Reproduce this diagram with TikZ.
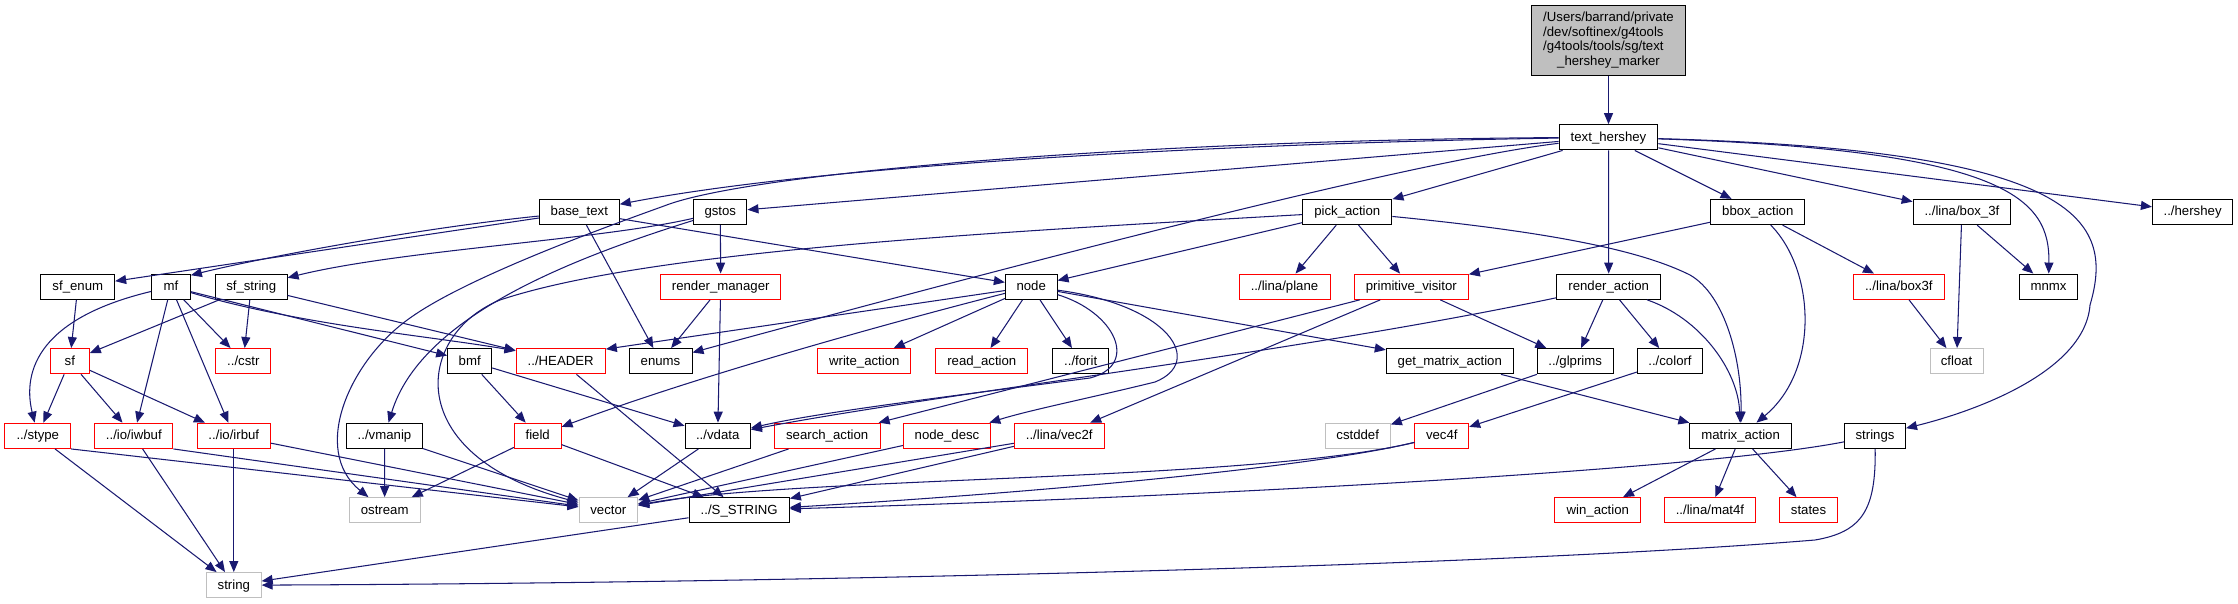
\documentclass[tikz,border=0pt]{standalone}
\usepackage{fontspec}
\setmainfont{Liberation Sans}
\usetikzlibrary{arrows.meta}
\definecolor{edgec}{HTML}{191970}
\definecolor{redb}{HTML}{FF0000}
\definecolor{grayb}{HTML}{BFBFBF}
\newcommand{\nf}{\fontsize{13.2bp}{14.8bp}\selectfont}
\begin{document}
\begin{tikzpicture}[x=1bp,y=-1bp,
  bx/.style={draw=black, line width=1.0bp, inner sep=0pt, minimum height=25.3bp, font=\nf, text height=9.5bp, text depth=1.6bp},
  rb/.style={bx, draw=redb},
  gb/.style={bx, draw=grayb},
  dep/.style={draw=edgec, line width=1.05bp, -{Triangle[length=11bp,width=9bp]}}]
\useasboundingbox (0,0) rectangle (2238,604);
% root
\node[draw=black, line width=1.0bp, fill=grayb, inner sep=0pt, minimum width=153.6bp, minimum height=69.6bp, font=\nf] (root) at (1608.5,40.5)
 {\renewcommand{\arraystretch}{1}\begin{tabular}{@{}l@{}}/Users/barrand/private\\/dev/softinex/g4tools\\/g4tools/tools/sg/text\\\multicolumn{1}{@{}c@{}}{\_hershey\_marker}\end{tabular}};
% row 1
\node[bx, minimum width=98.7bp] (th) at (1608.5,137.3) {text\_hershey};
% row 2
\node[bx, minimum width=80bp] (bt) at (579.3,212) {base\_text};
\node[bx, minimum width=53.3bp] (gs) at (720.3,212) {gstos};
\node[bx, minimum width=89.3bp] (pa) at (1347.3,212) {pick\_action};
\node[bx, minimum width=93.7bp] (bb) at (1757.8,212) {bbox\_action};
\node[bx, minimum width=97.5bp] (b3f) at (1961.9,212) {../lina/box\_3f};
\node[bx, minimum width=80.4bp] (hs) at (2192.6,212) {../hershey};
% row 3
\node[bx, minimum width=73.7bp] (se) at (77.8,286.7) {sf\_enum};
\node[bx, minimum width=38.7bp] (mf) at (171,286.7) {mf};
\node[bx, minimum width=71.7bp] (ss) at (251.2,286.7) {sf\_string};
\node[rb, minimum width=120bp] (rm) at (720.7,286.7) {render\_manager};
\node[bx, minimum width=51.7bp] (nd) at (1031.2,286.7) {node};
\node[rb, minimum width=91bp] (pl) at (1284.5,286.7) {../lina/plane};
\node[rb, minimum width=114bp] (pv) at (1411.3,286.7) {primitive\_visitor};
\node[bx, minimum width=104bp] (ra) at (1608.7,286.7) {render\_action};
\node[rb, minimum width=91bp] (bx3) at (1898.8,286.7) {../lina/box3f};
\node[bx, minimum width=58.5bp] (mm) at (2048.5,286.7) {mnmx};
% row 4
\node[rb, minimum width=39bp] (sf) at (69.8,361.2) {sf};
\node[rb, minimum width=54.7bp] (cs) at (243.3,361.2) {../cstr};
\node[bx, minimum width=44bp] (bmf) at (469.7,361.2) {bmf};
\node[rb, minimum width=89.3bp] (hd) at (560.7,361.2) {../HEADER};
\node[bx, minimum width=63bp] (en) at (660.5,361.2) {enums};
\node[rb, minimum width=93.3bp] (wa) at (864.3,361.2) {write\_action};
\node[rb, minimum width=92.3bp] (rda) at (981.8,361.2) {read\_action};
\node[bx, minimum width=56bp] (fo) at (1080.7,361.2) {../forit};
\node[bx, minimum width=127bp] (gma) at (1449.8,361.2) {get\_matrix\_action};
\node[bx, minimum width=76.3bp] (gl) at (1575.2,361.2) {../glprims};
\node[bx, minimum width=65.3bp] (co) at (1670,361.2) {../colorf};
\node[gb, minimum width=52.8bp] (cf) at (1956.6,361.2) {cfloat};
% row 5
\node[rb, minimum width=65.7bp] (sty) at (37.8,435.8) {../stype};
\node[rb, minimum width=78.3bp] (iw) at (133.8,435.8) {../io/iwbuf};
\node[rb, minimum width=73bp] (ir) at (233.8,435.8) {../io/irbuf};
\node[bx, minimum width=75.7bp] (vm) at (384.5,435.8) {../vmanip};
\node[rb, minimum width=46.7bp] (fd) at (537.7,435.8) {field};
\node[bx, minimum width=65.3bp] (vd) at (717.7,435.8) {../vdata};
\node[rb, minimum width=105.7bp] (sa) at (827.2,435.8) {search\_action};
\node[rb, minimum width=87.3bp] (ndc) at (947,435.8) {node\_desc};
\node[rb, minimum width=89.7bp] (v2) at (1059.2,435.8) {../lina/vec2f};
\node[gb, minimum width=65.3bp] (cd) at (1357.7,435.8) {cstddef};
\node[rb, minimum width=53.7bp] (v4) at (1441.8,435.8) {vec4f};
\node[bx, minimum width=101.4bp] (ma) at (1740.6,435.8) {matrix\_action};
\node[bx, minimum width=61bp] (str) at (1875,435.8) {strings};
% row 6
\node[gb, minimum width=71bp] (os) at (384.7,510.3) {ostream};
\node[gb, minimum width=58.6bp] (vec) at (608.3,510.3) {vector};
\node[bx, minimum width=100.3bp] (sst) at (739.2,510.3) {../S\_STRING};
\node[rb, minimum width=85.7bp] (wi) at (1597.8,510.3) {win\_action};
\node[rb, minimum width=90.4bp] (m4) at (1709.9,510.3) {../lina/mat4f};
\node[rb, minimum width=57.1bp] (sts) at (1808.5,510.3) {states};
% row 7
\node[gb, minimum width=54.7bp] (sg) at (233.8,585.2) {string};

% edges from root / text_hershey
\draw[dep] (root) -- (th);
\draw[dep] (th) .. controls (1300,142) and (850,160) .. (bt);
\draw[dep] (th) -- (gs);
\draw[dep] (th) -- (pa);
\draw[dep] (th) -- (bb);
\draw[dep] (th) -- (b3f);
\draw[dep] (th) -- (hs);
\draw[dep] (th) -- (ra);
\draw[dep] (th) .. controls (2010,150) and (2050,200) .. (mm);
\draw[dep] (th) .. controls (2080,150) and (2115,220) .. (2090,305) .. controls (2085,370) and (1980,410) .. (str);
\draw[dep] (th) .. controls (1420,160) and (1050,255) .. (en);
\draw[dep] (th) .. controls (1150,140) and (750,172) .. (664,206) .. controls (620,222) and (470,275) .. (410,318) .. controls (350,360) and (310,450) .. (os);
% base_text
\draw[dep] (bt) -- (se);
\draw[dep] (bt) .. controls (420,228) and (260,258) .. (mf.30);
\draw[dep] (bt) -- (en);
\draw[dep] (bt) -- (nd);
% gstos
\draw[dep] (gs) -- (rm);
\draw[dep] (gs) .. controls (600,240) and (400,250) .. (ss);
\draw[dep] (gs) .. controls (560,262) and (420,320) .. (vm);
% pick_action
\draw[dep] (pa) -- (nd);
\draw[dep] (pa) -- (pl);
\draw[dep] (pa) -- (pv);
\draw[dep] (pa) .. controls (1550,232) and (1640,250) .. (1690,275) .. controls (1725,295) and (1742,360) .. (ma);
\draw[dep] (pa) .. controls (1000,232) and (650,250) .. (500,300) .. controls (415,335) and (400,455) .. (vec);
% bbox_action
\draw[dep] (bb) -- (pv);
\draw[dep] (bb) -- (bx3);
\draw[dep] (bb) .. controls (1815,270) and (1820,370) .. (ma);
% box_3f, box3f
\draw[dep] (b3f) -- (mm);
\draw[dep] (b3f) -- (cf);
\draw[dep] (bx3) -- (cf);
% render_action
\draw[dep] (ra) -- (gl);
\draw[dep] (ra) -- (co);
\draw[dep] (ra) .. controls (1700,318) and (1738,370) .. (ma);
\draw[dep] (ra) .. controls (1300,352) and (950,392) .. (vd);
% row 3 left
\draw[dep] (se) -- (sf);
\draw[dep] (mf) .. controls (40,318) and (22,370) .. (sty);
\draw[dep] (mf) -- (iw);
\draw[dep] (mf) -- (ir);
\draw[dep] (mf) -- (cs);
\draw[dep] (mf) -- (bmf);
\draw[dep] (mf) .. controls (300,325) and (430,336) .. (hd.167);
\draw[dep] (ss) -- (sf);
\draw[dep] (ss) -- (cs);
\draw[dep] (ss) -- (hd);
\draw[dep] (rm) -- (en);
\draw[dep] (rm) -- (vd);
% node
\draw[dep] (nd) -- (hd.15);
\draw[dep] (nd) .. controls (900,320) and (700,375) .. (fd);
\draw[dep] (nd) -- (wa);
\draw[dep] (nd) -- (rda);
\draw[dep] (nd) -- (fo);
\draw[dep] (nd) -- (gma);
\draw[dep] (nd) .. controls (1115,312) and (1140,365) .. (1090,378) .. controls (960,395) and (820,412) .. (vd);
\draw[dep] (nd) .. controls (1170,305) and (1205,362) .. (1155,382) .. controls (1090,398) and (1030,410) .. (ndc);
% primitive_visitor
\draw[dep] (pv) -- (gl);
\draw[dep] (pv) -- (sa);
\draw[dep] (pv) -- (v2);
% row 4
\draw[dep] (sf) -- (sty);
\draw[dep] (sf) -- (iw);
\draw[dep] (sf) -- (ir);
\draw[dep] (bmf) -- (fd);
\draw[dep] (bmf) -- (vd);
\draw[dep] (hd) -- (sst);
\draw[dep] (gma) -- (ma);
\draw[dep] (gl) -- (cd);
\draw[dep] (co) -- (v4);
% row 5
\draw[dep] (sty) -- (sg);
\draw[dep] (sty.south east) -- (vec);
\draw[dep] (iw) -- (sg);
\draw[dep] (iw.south east) -- (vec);
\draw[dep] (ir) -- (sg);
\draw[dep] (ir) -- (vec);
\draw[dep] (vm) -- (os);
\draw[dep] (vm) -- (vec);
\draw[dep] (fd) -- (os);
\draw[dep] (fd) -- (sst);
\draw[dep] (vd) -- (vec);
\draw[dep] (sa) -- (vec);
\draw[dep] (ndc) -- (vec);
\draw[dep] (v2) -- (vec);
\draw[dep] (v2) -- (sst);
\draw[dep] (v4) .. controls (1250,482) and (800,476) .. (vec);
\draw[dep] (v4) .. controls (1300,470) and (1000,495) .. (sst);
\draw[dep] (str) .. controls (1700,470) and (1200,497) .. (sst);
\draw[dep] (str) .. controls (1876,510) and (1862,532) .. (1815,540) .. controls (1500,566) and (800,583) .. (sg);
\draw[dep] (ma) -- (wi);
\draw[dep] (ma) -- (m4);
\draw[dep] (ma) -- (sts);
% row 6
\draw[dep] (sst) -- (sg);
\end{tikzpicture}
\end{document}
